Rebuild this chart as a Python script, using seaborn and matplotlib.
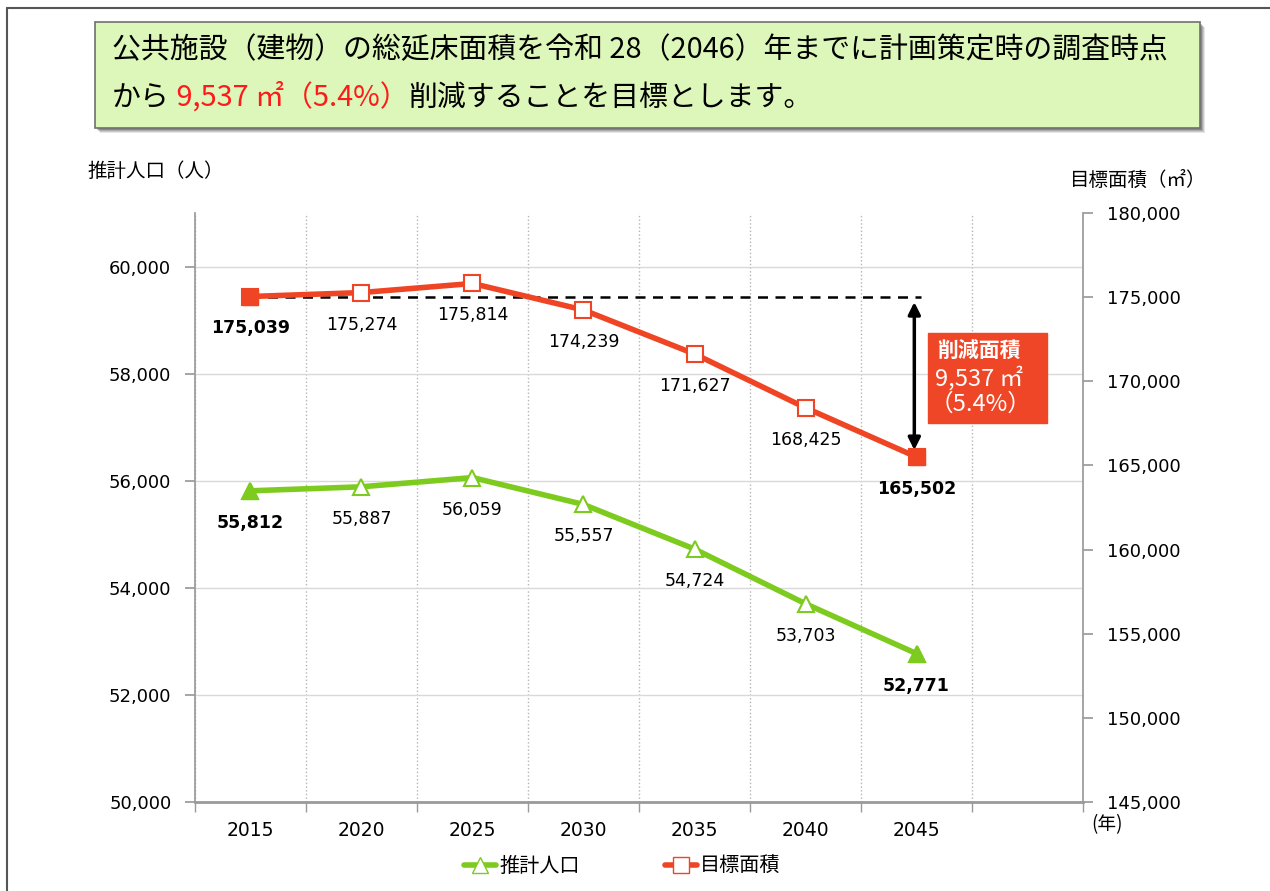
import seaborn as sns
import matplotlib.pyplot as plt
import pandas as pd
import numpy as np
from matplotlib.patches import Rectangle
from matplotlib.lines import Line2D

# ---- data ----
years = ["2015", "2020", "2025", "2030", "2035", "2040", "2045"]
population = [55812, 55887, 56059, 55557, 54724, 53703, 52771]
floor_area = [175039, 175274, 175814, 174239, 171627, 168425, 165502]
pop_ticks = [50000, 52000, 54000, 56000, 58000, 60000]
area_ticks = [145000, 150000, 155000, 160000, 165000, 170000, 175000, 180000]
reduction_label = "9,537 ㎡（5.4%）"

JP = ["Noto Sans CJK JP", "DejaVu Sans"]
NUM = ["DejaVu Sans", "Noto Sans CJK JP"]
GREEN = "#7dcb1e"
RED = "#ef4524"
GRAY = "#9a9a9a"

sns.set_theme(style="white")
plt.rcParams["font.family"] = NUM
plt.rcParams["text.color"] = "black"
plt.rcParams["xtick.color"] = "black"
plt.rcParams["ytick.color"] = "black"

df = pd.DataFrame({"year": years, "pop": population, "area": floor_area})
df["pos"] = np.arange(len(df))
ends = df.iloc[[0, -1]]

fig = plt.figure(figsize=(12.7, 8.91), dpi=100)
ax = fig.add_axes([0.1535, 0.0999, 0.6993, 0.661])
ax2 = ax.twinx()

# ---- lines ----
sns.lineplot(data=df, x="pos", y="pop", ax=ax, color=GREEN, lw=4,
             marker="^", markersize=12, markerfacecolor="white",
             markeredgecolor=GREEN, markeredgewidth=1.5, zorder=3)
ax.plot(ends["pos"], ends["pop"], ls="none", marker="^", markersize=12,
        color=GREEN, zorder=4)

sns.lineplot(data=df, x="pos", y="area", ax=ax2, color=RED, lw=4,
             marker="s", markersize=11, markerfacecolor="white",
             markeredgecolor=RED, markeredgewidth=1.5, zorder=3)
ax2.plot(ends["pos"], ends["area"], ls="none", marker="s", markersize=11,
         color=RED, zorder=4)

# data labels
for i, row in df.iterrows():
    bold = i in (0, len(df) - 1)
    ax.annotate(f"{row['pop']:,}", (row["pos"], row["pop"]), xytext=(0, -23),
                textcoords="offset points", ha="center", va="center",
                fontsize=12.5, fontweight="bold" if bold else "normal")
    ax2.annotate(f"{row['area']:,}", (row["pos"], row["area"]), xytext=(0, -23),
                 textcoords="offset points", ha="center", va="center",
                 fontsize=12.5, fontweight="bold" if bold else "normal")

# reduction: dashed reference and arrow
ax2.plot([0, 6.04], [floor_area[0], floor_area[0]], ls=(0, (4, 3)),
         color="black", lw=1.8, zorder=2)
ax2.annotate("", xy=(5.98, floor_area[-1]), xytext=(5.98, floor_area[0]),
             arrowprops=dict(arrowstyle="<|-|>", color="black", lw=2.5,
                             mutation_scale=18, shrinkA=4, shrinkB=5))

# ---- axes styling ----
ax.set_xlim(-0.5, 7.5)
ax.set_ylim(50000, 61000)
ax2.set_ylim(145000, 180000)
ax.set_yticks(pop_ticks)
ax.set_yticklabels([f"{v:,}" for v in pop_ticks], fontsize=13)
ax2.set_yticks(area_ticks)
ax2.set_yticklabels([f"{v:,}" for v in area_ticks], fontsize=13)
ax.set_xticks(df["pos"])
ax.set_xticklabels(years, fontsize=13.5)
ax.set_xticks(np.arange(-0.5, 8, 1), minor=True)
ax.set_xlabel("")
ax.set_ylabel("")
ax2.set_ylabel("")

ax.yaxis.grid(True, color="#d9d9d9", lw=1)
ax.xaxis.grid(True, which="minor", color="#b5b5b5", lw=1, ls=":")
ax.xaxis.grid(False, which="major")
ax.tick_params(axis="x", which="major", length=0, pad=14)
ax.tick_params(axis="x", which="minor", length=7, color=GRAY, direction="out", bottom=True)
ax.tick_params(axis="y", length=7, color=GRAY, direction="out", left=True, pad=10)
ax2.tick_params(axis="y", length=7, color=GRAY, direction="out", right=True, pad=10)

for a in (ax, ax2):
    for s in a.spines.values():
        s.set_visible(False)
ax.spines["left"].set_visible(True)
ax.spines["left"].set_color(GRAY)
ax.spines["bottom"].set_visible(True)
ax.spines["bottom"].set_color(GRAY)
ax.spines["bottom"].set_linewidth(2)
ax2.spines["right"].set_visible(True)
ax2.spines["right"].set_color(GRAY)

# axis titles
fig.text(0.069, 0.807, "推計人口（人）", family=JP, fontsize=14, va="center")
fig.text(0.8425, 0.797, "目標面積（㎡）", family=JP, fontsize=14, va="center")
fig.text(0.859, 0.074, "(年)", family=JP, fontsize=13.5, va="center")

# legend
handles = [
    Line2D([], [], color=GREEN, lw=4, marker="^", markersize=11,
           markerfacecolor="white", markeredgecolor=GREEN),
    Line2D([], [], color=RED, lw=4, marker="s", markersize=11,
           markerfacecolor="white", markeredgecolor=RED),
]
fig.legend(handles, ["推計人口", "目標面積"], loc="center", ncol=2,
           bbox_to_anchor=(0.49, 0.028), frameon=False, handlelength=1.6,
           handletextpad=0.15, columnspacing=4.2, prop={"family": JP, "size": 14.5})

# reduction box
fig.patches.append(Rectangle((0.7307, 0.5253), 0.0937, 0.101,
                             transform=fig.transFigure, color="#ee4626", zorder=5))
fig.text(0.7378, 0.607, "削減面積", family=JP, fontsize=15, color="white",
         fontweight="bold", va="center", zorder=6)
fig.text(0.7362, 0.576, "9,537 ㎡", family=JP, fontsize=17, color="white",
         va="center", zorder=6)
fig.text(0.7322, 0.546, "（5.4%）", family=JP, fontsize=17, color="white",
         va="center", zorder=6)

# header box with soft shadow
for k, al in enumerate([0.10, 0.12, 0.15, 0.2]):
    off = 0.004 - k * 0.0008
    fig.patches.append(Rectangle((0.0748 + off, 0.8563 - off * 1.4), 0.870, 0.119,
                                 transform=fig.transFigure, color="black",
                                 alpha=al, lw=0, zorder=1))
fig.patches.append(Rectangle((0.0748, 0.8563), 0.870, 0.119,
                             transform=fig.transFigure, facecolor="#dcf7b9",
                             edgecolor="#6f6f6f", lw=1.2, zorder=2))
fig.text(0.088, 0.944, "公共施設（建物）の総延床面積を令和 28（2046）年までに計画策定時の調査時点",
         family=JP, fontsize=20.8, va="center", zorder=3)
t1 = fig.text(0.088, 0.890, "から", family=JP, fontsize=20.8, va="center", zorder=3)
t2 = fig.text(0, 0, " " + reduction_label, family=JP, fontsize=20.8, color="#ff1a1a", zorder=3)
t3 = fig.text(0, 0, "削減することを目標とします。", family=JP, fontsize=20.8, zorder=3)
fig.canvas.draw()
r = fig.canvas.get_renderer()
bb1 = t1.get_window_extent(r)
t2.set_position((bb1.x1 / fig.bbox.width, bb1.y0 / fig.bbox.height))
t2.set_va("bottom")
fig.canvas.draw()
bb2 = t2.get_window_extent(r)
t3.set_position((bb2.x1 / fig.bbox.width, bb2.y0 / fig.bbox.height))
t3.set_va("bottom")

# page frame
fig.add_artist(Line2D([0.0055, 0.0055], [0, 0.991], transform=fig.transFigure,
                      color="#555555", lw=1.5))
fig.add_artist(Line2D([0.0055, 1], [0.991, 0.991], transform=fig.transFigure,
                      color="#555555", lw=1.5))

fig.savefig("out.png", dpi=100)
